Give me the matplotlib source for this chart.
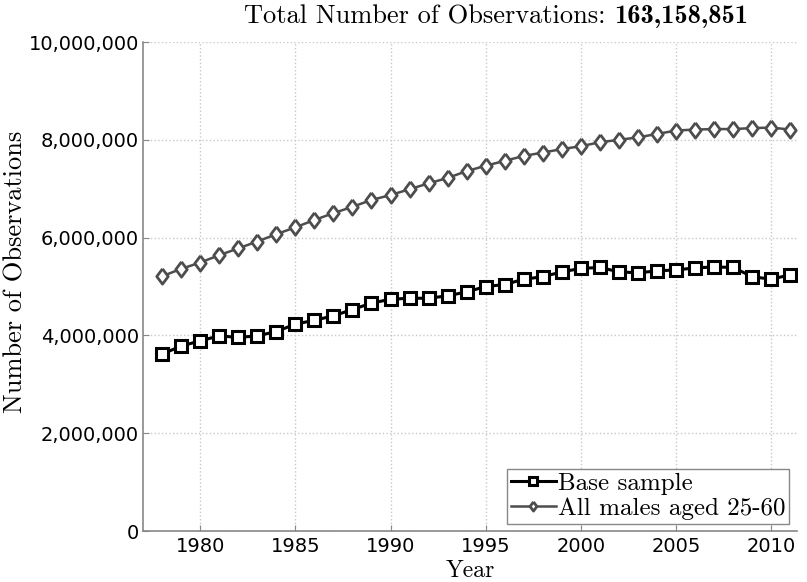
import matplotlib
matplotlib.use("Agg")
import matplotlib.pyplot as plt
from matplotlib.ticker import FuncFormatter

# Values
years = list(range(1978, 2012))
base_sample = [3.62, 3.78, 3.89, 3.99, 3.96, 3.99, 4.08, 4.23, 4.31, 4.40, 4.53,
               4.66, 4.74, 4.76, 4.76, 4.81, 4.89, 5.00, 5.04, 5.15, 5.20, 5.30,
               5.37, 5.39, 5.30, 5.28, 5.32, 5.34, 5.38, 5.40, 5.39, 5.20, 5.15, 5.24]
all_males = [5.21, 5.36, 5.49, 5.64, 5.78, 5.92, 6.07, 6.21, 6.36, 6.50, 6.63,
             6.77, 6.87, 6.99, 7.11, 7.22, 7.36, 7.47, 7.57, 7.67, 7.74, 7.81,
             7.87, 7.95, 8.00, 8.05, 8.12, 8.19, 8.21, 8.22, 8.22, 8.24, 8.25, 8.21]
base_sample = [v * 1e6 for v in base_sample]
all_males = [v * 1e6 for v in all_males]

x_ticks = [1980, 1985, 1990, 1995, 2000, 2005, 2010]
y_ticks = [0, 2e6, 4e6, 6e6, 8e6, 10e6]
title_text = "Total Number of Observations:"
total_obs = "163,158,851"

plt.rcParams["axes.unicode_minus"] = False
serif = "cmr10"
serif_bold = "cmb10"
tick_font = "DejaVu Sans"

fig = plt.figure(figsize=(8.07, 5.82), dpi=100)
ax = fig.add_axes([0.1772, 0.0876, 0.8104, 0.8402])

diamond = [(0, 1), (0.75, 0), (0, -1), (-0.75, 0), (0, 1)]

ax.plot(years, base_sample, color="black", linewidth=2.2, marker="s",
        markersize=9, markerfacecolor="white", markeredgecolor="black",
        markeredgewidth=2.2, label="Base sample", zorder=3)
ax.plot(years, all_males, color="#4d4d4d", linewidth=1.8, marker=diamond,
        markersize=11, markerfacecolor="white", markeredgecolor="#4d4d4d",
        markeredgewidth=2.0, label="All males aged 25-60", zorder=3)

ax.set_xlim(1977, 2011.35)
ax.set_ylim(0, 10e6)
ax.set_xticks(x_ticks)
ax.set_yticks(y_ticks)
ax.yaxis.set_major_formatter(FuncFormatter(lambda v, p: f"{int(v):,}"))

for lbl in ax.get_xticklabels() + ax.get_yticklabels():
    lbl.set_fontfamily(tick_font)
    lbl.set_fontsize(14)

ax.tick_params(direction="in", length=4, color="#888888", pad=3)
ax.tick_params(axis="x", pad=4)
ax.grid(True, linestyle=":", color="#c8c8c8", linewidth=1.0)
ax.set_axisbelow(True)
for side in ["top", "right"]:
    ax.spines[side].set_visible(False)
for side in ["left", "bottom"]:
    ax.spines[side].set_color("#888888")
    ax.spines[side].set_linewidth(1.2)

ax.set_xlabel("Year", fontfamily=serif, fontsize=17)
ax.xaxis.set_label_coords(0.5, -0.058)
ax.set_ylabel("Number of Observations", fontfamily=serif, fontsize=19)
ax.yaxis.set_label_coords(-0.176, 0.53)

# title in two pieces so the count can be bold
fig.text(605 / 807, 1 - 17 / 582, title_text, fontfamily=serif, fontsize=19,
         ha="right", va="center")
fig.text(614 / 807, 1 - 17 / 582, total_obs, fontfamily=serif_bold, fontsize=19,
         ha="left", va="center")

leg = ax.legend(loc="lower right", prop={"family": serif, "size": 18},
                fancybox=False, edgecolor="#888888", framealpha=1,
                handlelength=1.8, handletextpad=0.1, borderpad=0.15,
                labelspacing=0.1, borderaxespad=0.3, markerscale=0.6)
leg.get_frame().set_linewidth(1.0)

plt.savefig("out.png", dpi=100)
